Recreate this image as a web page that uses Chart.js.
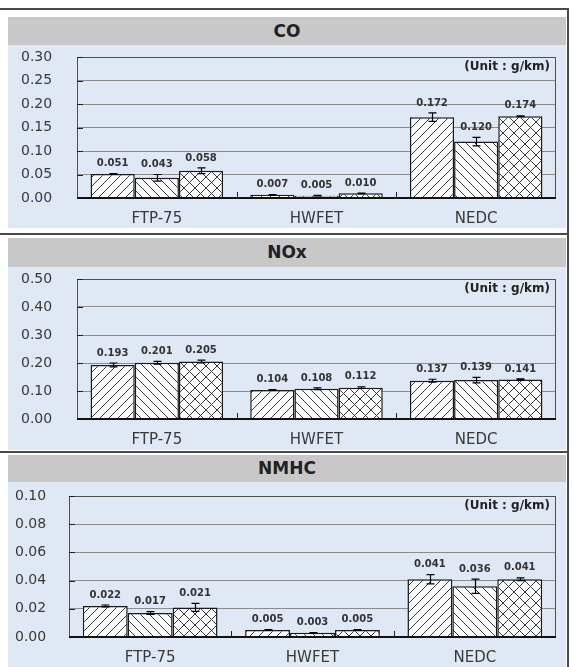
<!DOCTYPE html>
<html>
<head>
<meta charset="utf-8">
<script src="https://cdn.jsdelivr.net/npm/chart.js@4.4.1/dist/chart.umd.min.js"></script>
<style>
  html, body { margin: 0; padding: 0; background: #fff; }
  #page { position: relative; width: 572px; height: 667px; overflow: hidden; font-family: "DejaVu Sans", sans-serif; }
  .rule { position: absolute; background: #4a4a4a; }
  .head { position: absolute; left: 8px; width: 558px; background: #c8c8c8; color: #222;
          font-weight: bold; font-size: 17px; text-align: center; }
  .panel { position: absolute; left: 8px; width: 558px; background: #dfe8f5; }
  canvas { position: absolute; left: 8px; }
</style>
</head>
<body>
<div id="page">
  <div class="rule" style="left:0;top:8px;width:569px;height:2px"></div>
  <div class="rule" style="left:567px;top:8px;width:2px;height:659px"></div>
  <div class="rule" style="left:0;top:233px;width:569px;height:2px"></div>
  <div class="rule" style="left:0;top:451px;width:569px;height:2px"></div>

  <div class="head" style="top:17px;height:28px;line-height:28px">CO</div>
  <div class="panel" style="top:45px;height:183px"></div>
  <canvas id="coChart" width="558" height="183" style="top:45px"></canvas>

  <div class="head" style="top:238px;height:29px;line-height:29px">NOx</div>
  <div class="panel" style="top:267px;height:183px"></div>
  <canvas id="noxChart" width="558" height="183" style="top:267px"></canvas>

  <div class="head" style="top:455px;height:27px;line-height:27px">NMHC</div>
  <div class="panel" style="top:482px;height:185px"></div>
  <canvas id="nmhcChart" width="558" height="185" style="top:482px"></canvas>
</div>
<script>
// Данные
const categories = ['FTP-75', 'HWFET', 'NEDC'];

const coA = [0.051, 0.007, 0.172];
const coB = [0.043, 0.005, 0.120];
const coC = [0.058, 0.010, 0.174];
const coErrA = [0.001, 0.0005, 0.009];
const coErrB = [0.007, 0.0005, 0.009];
const coErrC = [0.006, 0.0005, 0.001];

const noxA = [0.193, 0.104, 0.137];
const noxB = [0.201, 0.108, 0.139];
const noxC = [0.205, 0.112, 0.141];
const noxErrA = [0.007, 0.001, 0.005];
const noxErrB = [0.005, 0.003, 0.010];
const noxErrC = [0.005, 0.003, 0.002];

const nmhcA = [0.022, 0.005, 0.041];
const nmhcB = [0.017, 0.003, 0.036];
const nmhcC = [0.021, 0.005, 0.041];
const nmhcErrA = [0.0007, 0.0002, 0.0033];
const nmhcErrB = [0.0010, 0.0002, 0.0050];
const nmhcErrC = [0.0028, 0.0003, 0.0010];

const unitText = '(Unit : g/km)';

// Штриховки
function hatch(kind) {
    const s = kind === 'cross' ? 11 : 9;
    const c = document.createElement('canvas');
    c.width = s; c.height = s;
    const g = c.getContext('2d');
    g.fillStyle = '#ffffff';
    g.fillRect(0, 0, s, s);
    g.strokeStyle = '#3a3a3a';
    g.lineWidth = 1;
    const fwd = () => {
        g.beginPath();
        g.moveTo(-1, s + 1); g.lineTo(s + 1, -1);
        g.moveTo(-1, 1); g.lineTo(1, -1);
        g.moveTo(s - 1, s + 1); g.lineTo(s + 1, s - 1);
        g.stroke();
    };
    const back = () => {
        g.beginPath();
        g.moveTo(-1, -1); g.lineTo(s + 1, s + 1);
        g.moveTo(s - 1, -1); g.lineTo(s + 1, 1);
        g.moveTo(-1, s - 1); g.lineTo(1, s + 1);
        g.stroke();
    };
    if (kind === 'fwd') fwd();
    if (kind === 'back') back();
    if (kind === 'cross') { fwd(); back(); }
    return g.createPattern(c, 'repeat');
}

const frameAndLabels = {
    id: 'frameAndLabels',
    afterDatasetsDraw(chart) {
        const ctx = chart.ctx;
        const a = chart.chartArea;
        const x = chart.scales.x, y = chart.scales.y;
        ctx.save();
        // рамка
        ctx.strokeStyle = '#505050';
        ctx.lineWidth = 1;
        ctx.beginPath();
        ctx.moveTo(a.left + 0.5, a.bottom); ctx.lineTo(a.left + 0.5, a.top + 0.5);
        ctx.lineTo(a.right - 0.5, a.top + 0.5); ctx.lineTo(a.right - 0.5, a.bottom);
        ctx.stroke();
        // засечки на оси Y
        ctx.strokeStyle = '#222';
        y.ticks.forEach(t => {
            const py = Math.round(y.getPixelForValue(t.value)) + 0.5;
            ctx.beginPath(); ctx.moveTo(a.left, py); ctx.lineTo(a.left + 6, py); ctx.stroke();
        });
        // засечки между категориями
        for (let i = 1; i < categories.length; i++) {
            const px = Math.round(x.getPixelForValue(i - 0.5)) + 0.5;
            ctx.beginPath(); ctx.moveTo(px, a.bottom); ctx.lineTo(px, a.bottom - 6); ctx.stroke();
        }
        // ось X
        ctx.strokeStyle = '#111';
        ctx.lineWidth = 2;
        ctx.beginPath(); ctx.moveTo(a.left, a.bottom); ctx.lineTo(a.right, a.bottom); ctx.stroke();

        // планки погрешностей и подписи
        chart.data.datasets.forEach((ds, di) => {
            const meta = chart.getDatasetMeta(di);
            meta.data.forEach((bar, j) => {
                const v = ds.data[j], e = ds.errors[j];
                const yt = y.getPixelForValue(v + e);
                const yb = y.getPixelForValue(v - e);
                const bx = Math.round(bar.x) + 0.5;
                ctx.strokeStyle = '#000';
                ctx.lineWidth = 1.2;
                ctx.beginPath();
                ctx.moveTo(bx, yt); ctx.lineTo(bx, yb);
                ctx.moveTo(bx - 4, yt); ctx.lineTo(bx + 4, yt);
                ctx.moveTo(bx - 4, yb); ctx.lineTo(bx + 4, yb);
                ctx.stroke();
                ctx.fillStyle = '#333';
                ctx.font = 'bold 10px "DejaVu Sans"';
                ctx.textAlign = 'center';
                ctx.textBaseline = 'middle';
                ctx.fillText(v.toFixed(3), bar.x, Math.min(yt, bar.y) - 10);
            });
        });
        // единицы
        ctx.fillStyle = '#222';
        ctx.font = 'bold 12px "DejaVu Sans"';
        ctx.textAlign = 'right';
        ctx.textBaseline = 'middle';
        ctx.fillText(unitText, a.right - 6, a.top + 10);
        ctx.restore();
    }
};

function makeChart(id, vals, errs, yMax, yStep, padLeft, yWidth, top, xHeight) {
    const patterns = [hatch('fwd'), hatch('back'), hatch('cross')];
    return new Chart(document.getElementById(id), {
        type: 'bar',
        data: {
            labels: categories,
            datasets: vals.map((d, i) => ({
                data: d,
                errors: errs[i],
                backgroundColor: patterns[i],
                borderColor: '#1a1a1a',
                borderWidth: 1.5,
                categoryPercentage: 0.83,
                barPercentage: 1.0
            }))
        },
        options: {
            responsive: false,
            animation: false,
            layout: { padding: { left: padLeft, right: 10, top: top, bottom: 0 } },
            plugins: { legend: { display: false }, tooltip: { enabled: false } },
            scales: {
                x: {
                    grid: { display: false },
                    border: { display: false },
                    ticks: { color: '#3a3a3a', font: { family: 'DejaVu Sans', size: 15 }, padding: 4 },
                    afterFit: s => { s.height = xHeight; }
                },
                y: {
                    min: 0, max: yMax,
                    grid: { color: '#8c8c8c', lineWidth: 1, drawTicks: false },
                    border: { display: false },
                    ticks: {
                        stepSize: yStep,
                        color: '#3a3a3a',
                        font: { family: 'DejaVu Sans', size: 14 },
                        padding: 0,
                        crossAlign: 'far',
                        callback: v => v.toFixed(2)
                    },
                    afterFit: s => { s.width = yWidth; }
                }
            }
        },
        plugins: [frameAndLabels]
    });
}

window.onload = () => {
    makeChart('coChart', [coA, coB, coC], [coErrA, coErrB, coErrC], 0.30, 0.05, 13, 56, 12, 30);
    makeChart('noxChart', [noxA, noxB, noxC], [noxErrA, noxErrB, noxErrC], 0.50, 0.10, 13, 56, 12, 31);
    makeChart('nmhcChart', [nmhcA, nmhcB, nmhcC], [nmhcErrA, nmhcErrB, nmhcErrC], 0.10, 0.02, 7, 54, 14, 30);
};
</script>
</body>
</html>
